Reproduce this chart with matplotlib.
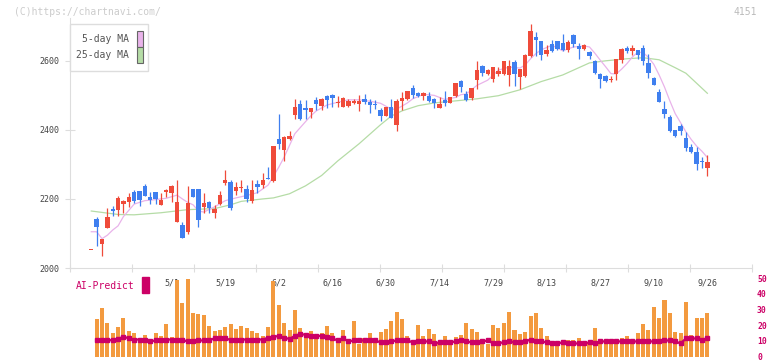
import numpy as np
import matplotlib.pyplot as plt
from matplotlib.patches import Rectangle

plt.rcParams['font.family'] = ['DejaVu Sans Mono']

# daily candles (index 0 = first session shown, 4/9 .. 9/26)
opens = [2053, 2142, 2070, 2117, 2172, 2169, 2186, 2192, 2221, 2224,
         2238, 2206, 2221, 2183, 2221, 2218, 2134, 2125, 2105, 2230,
         2230, 2177, 2192, 2158, 2186, 2247, 2250, 2224, 2233, 2230,
         2195, 2244, 2241, 2261, 2253, 2374, 2342, 2374, 2443, 2475,
         2464, 2452, 2487, 2470, 2499, 2502, 2478, 2467, 2470, 2478,
         2475, 2490, 2481, 2476, 2458, 2441, 2467, 2415, 2484, 2490,
         2522, 2507, 2499, 2499, 2490, 2464, 2487, 2478, 2499, 2542,
         2505, 2493, 2545, 2585, 2562, 2548, 2562, 2562, 2559, 2597,
         2553, 2556, 2614, 2669, 2658, 2620, 2649, 2658, 2652, 2632,
         2675, 2643, 2635, 2626, 2600, 2562, 2556, 2545, 2562, 2603,
         2638, 2629, 2632, 2638, 2594, 2551, 2510, 2461, 2438, 2400,
         2412, 2377, 2351, 2336, 2310, 2290]
highs = [2053, 2147, 2084, 2174, 2180, 2209, 2197, 2218, 2227, 2224,
         2244, 2221, 2221, 2218, 2230, 2241, 2256, 2134, 2238, 2230,
         2230, 2218, 2195, 2183, 2222, 2284, 2256, 2250, 2256, 2241,
         2256, 2256, 2276, 2293, 2354, 2446, 2383, 2397, 2490, 2487,
         2487, 2464, 2496, 2493, 2502, 2505, 2499, 2496, 2490, 2490,
         2502, 2505, 2490, 2487, 2464, 2467, 2490, 2490, 2510, 2513,
         2531, 2510, 2510, 2510, 2493, 2496, 2513, 2496, 2536, 2545,
         2513, 2522, 2600, 2588, 2577, 2582, 2582, 2600, 2603, 2603,
         2577, 2620, 2707, 2684, 2658, 2646, 2661, 2658, 2678, 2661,
         2678, 2652, 2649, 2629, 2603, 2565, 2559, 2556, 2606, 2638,
         2643, 2646, 2632, 2646, 2620, 2554, 2519, 2484, 2443, 2400,
         2417, 2394, 2360, 2351, 2322, 2328]
lows = [2053, 2065, 2034, 2117, 2152, 2151, 2160, 2177, 2189, 2180,
        2209, 2186, 2186, 2183, 2206, 2192, 2134, 2088, 2099, 2206,
        2120, 2160, 2160, 2145, 2183, 2241, 2169, 2212, 2221, 2192,
        2189, 2218, 2232, 2258, 2250, 2345, 2310, 2371, 2432, 2429,
        2432, 2435, 2458, 2458, 2464, 2467, 2467, 2467, 2467, 2475,
        2455, 2475, 2449, 2461, 2426, 2441, 2435, 2397, 2458, 2487,
        2493, 2496, 2487, 2481, 2464, 2464, 2470, 2478, 2496, 2510,
        2484, 2487, 2519, 2556, 2559, 2539, 2556, 2559, 2528, 2528,
        2519, 2553, 2611, 2614, 2603, 2614, 2626, 2632, 2629, 2626,
        2640, 2606, 2632, 2606, 2562, 2522, 2539, 2539, 2545, 2594,
        2623, 2617, 2606, 2588, 2551, 2530, 2481, 2435, 2394, 2380,
        2386, 2339, 2333, 2284, 2290, 2267]
closes = [2053, 2120, 2084, 2148, 2166, 2203, 2195, 2206, 2195, 2198,
          2209, 2198, 2200, 2198, 2227, 2238, 2192, 2088, 2189, 2206,
          2140, 2189, 2174, 2172, 2212, 2256, 2174, 2235, 2236, 2201,
          2227, 2235, 2256, 2258, 2354, 2359, 2380, 2383, 2467, 2432,
          2458, 2464, 2475, 2490, 2487, 2493, 2481, 2493, 2484, 2484,
          2484, 2481, 2473, 2473, 2441, 2467, 2435, 2484, 2493, 2513,
          2502, 2499, 2507, 2484, 2478, 2475, 2478, 2496, 2536, 2525,
          2487, 2522, 2574, 2565, 2574, 2582, 2571, 2600, 2585, 2562,
          2577, 2617, 2687, 2661, 2617, 2632, 2629, 2635, 2632, 2655,
          2649, 2635, 2646, 2614, 2565, 2548, 2542, 2547, 2606, 2635,
          2629, 2638, 2617, 2600, 2565, 2530, 2481, 2446, 2397, 2383,
          2397, 2348, 2336, 2302, 2307, 2307]

# moving averages (candle index, price)
ma5_idx = [0, 1, 2, 3, 4, 5, 6, 8, 10, 12, 14, 16, 17, 18, 19, 20, 21, 23,
           25, 27, 29, 31, 33, 34, 35, 36, 38, 40, 41, 42, 44, 46, 48, 50,
           52, 54, 56, 57, 59, 60, 62, 64, 66, 68, 69, 70, 72, 74, 76, 78,
           80, 81, 82, 83, 84, 86, 88, 90, 92, 93, 94, 95, 96, 97, 98, 99,
           100, 101, 102, 103, 104, 105, 106, 107, 108, 109, 110, 111, 112,
           113, 114, 115]
ma5_val = [2105, 2105, 2085, 2095, 2110, 2122, 2149, 2185, 2195, 2198, 2202,
           2211, 2200, 2190, 2183, 2165, 2162, 2177, 2195, 2203, 2210, 2218,
           2240, 2266, 2292, 2321, 2389, 2424, 2441, 2455, 2472, 2480, 2487,
           2487, 2483, 2477, 2460, 2460, 2478, 2490, 2503, 2500, 2488, 2494,
           2502, 2504, 2529, 2544, 2573, 2582, 2579, 2588, 2606, 2621, 2632,
           2645, 2629, 2640, 2643, 2640, 2622, 2602, 2583, 2563, 2562, 2576,
           2592, 2611, 2625, 2624, 2610, 2590, 2559, 2524, 2484, 2447, 2421,
           2394, 2372, 2353, 2338, 2320]
ma25_idx = [0, 5, 8, 13, 18, 23, 26, 28, 32, 34, 37, 40, 43, 46, 50, 54, 56,
            58, 61, 64, 70, 72, 76, 80, 84, 88, 91, 93, 96, 100, 103, 106,
            109, 111, 113, 115]
ma25_val = [2165, 2155, 2154, 2160, 2169, 2172, 2183, 2193, 2200, 2203, 2215,
            2238, 2268, 2310, 2360, 2415, 2440, 2455, 2470, 2478, 2487, 2490,
            2499, 2516, 2540, 2559, 2580, 2594, 2600, 2606, 2609, 2603, 2580,
            2564, 2535, 2506]

# AI-Predict panel, sessions 1..115
ai_bars = [24, 30.8, 21.5, 15.2, 19, 24.6, 16, 15.2, 11, 14,
           8.8, 15.2, 13.3, 20.8, 12.7, 49, 34, 49.6, 27.7, 27,
           26.5, 19.6, 16.5, 17, 19, 20.8, 17.7, 19.6, 18.3, 16.5,
           15.2, 13.3, 19, 48, 32.7, 21.5, 17, 29.6, 18.3, 15.2,
           16.5, 14, 15.2, 19.6, 15.2, 12, 17, 9, 22.7, 7.7,
           11.5, 15.2, 12, 15.8, 17.7, 22.7, 28.3, 24, 13.3, 9,
           20.2, 13.3, 17.7, 14.6, 9, 13.3, 9, 12.7, 14, 21.5,
           17.7, 15.8, 9, 8, 20.2, 18.3, 21.5, 28.3, 17, 14.6,
           15.8, 25.8, 27.7, 18.3, 13.3, 9, 8, 9, 10.8, 10.8,
           11.5, 7, 9, 18.3, 9, 9, 9, 9, 12, 13.3,
           8, 15.2, 20.8, 17, 31.5, 24.6, 35.8, 27.7, 15.8, 15.2,
           34.6, 14, 24.6, 24.6, 27.7]
ai_line = [10.4, 10.4, 10.4, 10.4, 11.0, 12.7, 11.5, 10.8, 10.8, 10.8,
           9.6, 10.2, 10.2, 10.8, 10.8, 10.8, 10.2, 9.8, 9.6, 10.2,
           10.2, 10.4, 11.5, 11.5, 11.5, 10.6, 10.2, 10.8, 10.8, 10.8,
           10.8, 10.8, 11.9, 12.5, 13.1, 11.9, 11.2, 13.1, 14.4, 13.8,
           13.1, 13.1, 13.1, 12.5, 11.5, 10.2, 11.5, 9.6, 10.2, 10.2,
           10.2, 10.2, 10.2, 9.0, 9.0, 9.6, 10.2, 10.5, 10.2, 9.0,
           9.6, 9.6, 9.6, 8.3, 9.0, 9.0, 9.0, 9.6, 10.2, 9.6,
           9.0, 9.0, 9.6, 10.2, 8.5, 8.5, 9.0, 9.6, 9.0, 9.0,
           9.6, 10.8, 9.6, 9.6, 9.0, 8.3, 8.3, 9.0, 8.3, 8.3,
           8.3, 8.3, 9.0, 8.3, 9.6, 9.6, 9.6, 9.6, 9.6, 9.6,
           9.6, 9.6, 9.6, 9.6, 9.6, 9.6, 10.2, 10.2, 9.6, 8.3,
           11.5, 11.5, 11.5, 10.8, 11.5]

date_idx = [15, 25, 35, 45, 55, 65, 75, 85, 95, 105, 115]
date_lbl = ['5/1', '5/19', '6/2', '6/16', '6/30', '7/14', '7/29',
            '8/13', '8/27', '9/10', '9/26']

RED = '#EF4B3A'
BLUE = '#3F7FEF'
CRIMSON = '#CC0066'
W, H = 772, 361


def fx(x):
    return x / W


def fy(y):
    return 1 - y / H


fig = plt.figure(figsize=(W / 100, H / 100), dpi=100)
x0, x1 = (70 - 91.3) / 5.357, (752 - 91.3) / 5.357

# price panel
ax = fig.add_axes([fx(70), fy(268), 682 / W, 250 / H])
n = np.arange(len(closes))
o = np.array(opens)
c = np.array(closes)
cols = [RED if cc >= oo else BLUE for oo, cc in zip(o, c)]
ax.plot(ma25_idx, ma25_val, color='#B5DCA6', lw=0.9, zorder=1)
ax.plot(ma5_idx, ma5_val, color='#E9B3EA', lw=0.9, zorder=1)
ax.vlines(n, lows, highs, colors=cols, lw=0.9, zorder=2)
ax.bar(n, np.maximum(np.abs(c - o), 2.5), bottom=np.minimum(o, c),
       width=0.82, color=cols, zorder=3)
ax.set_xlim(x0, x1)
ax.set_ylim(2000, 2724)
for s in ['top', 'right']:
    ax.spines[s].set_visible(False)
for s in ['left', 'bottom']:
    ax.spines[s].set_color('#DDDDDD')
ax.set_yticks([2000, 2200, 2400, 2600])
ax.set_xticks(np.linspace(x0, x1, 12))
ax.set_xticklabels([])
ax.tick_params(axis='y', direction='inout', length=7, color='#DDDDDD',
               labelsize=6, labelcolor='#444444', pad=4)
ax.tick_params(axis='x', direction='inout', length=6, color='#DDDDDD')

# AI-Predict panel
ax2 = fig.add_axes([fx(70), fy(356.5), 682 / W, 78.5 / H])
k = np.arange(1, len(ai_bars) + 1)
ax2.bar(k, ai_bars, width=0.75, color='#F39A3F', zorder=2)
ax2.plot(k, ai_line, color=CRIMSON, lw=1.6, marker='s', ms=2.2, zorder=3)
for i, lbl in zip(date_idx, date_lbl):
    ax2.text(i, 46.9, lbl, ha='center', va='center', fontsize=6,
             color='#444444', zorder=1)
ax2.set_xlim(x0, x1)
ax2.set_ylim(0, 50)
for s in ax2.spines.values():
    s.set_visible(False)
ax2.set_xticks([])
ax2.yaxis.tick_right()
ax2.set_yticks([0, 10, 20, 30, 40, 50])
ax2.tick_params(axis='y', length=0, pad=3.6, labelsize=5.8, labelcolor=CRIMSON)
for t in ax2.get_yticklabels():
    t.set_fontweight('bold')

fig.text(fx(76), fy(286), 'AI-Predict', fontsize=7, color=CRIMSON,
         va='center', ha='left')
fig.patches.append(Rectangle((fx(142), fy(293)), 7 / W, 16 / H,
                             transform=fig.transFigure, color=CRIMSON))

# legend box
fig.patches.append(Rectangle((fx(70), fy(71)), 78 / W, 47 / H,
                             transform=fig.transFigure, fc='white',
                             ec='#DDDDDD', lw=1, zorder=5))
for yy, lbl, col in [(39, '5-day MA', '#E9B3EA'), (55, '25-day MA', '#B5DCA6')]:
    fig.text(fx(129), fy(yy), lbl, fontsize=7, color='#555555',
             ha='right', va='center', zorder=6)
    fig.patches.append(Rectangle((fx(136.5), fy(yy + 7.5)), 6 / W, 15 / H,
                                 transform=fig.transFigure, fc=col,
                                 ec='#666666', lw=0.8, zorder=6))

fig.text(fx(14), fy(12), '(C)https://chartnavi.com/', fontsize=7,
         color='#CCCCCC', ha='left', va='center')
fig.text(fx(757), fy(12), '4151', fontsize=7, color='#BBBBBB',
         ha='right', va='center')

fig.savefig('out.png', dpi=100)
